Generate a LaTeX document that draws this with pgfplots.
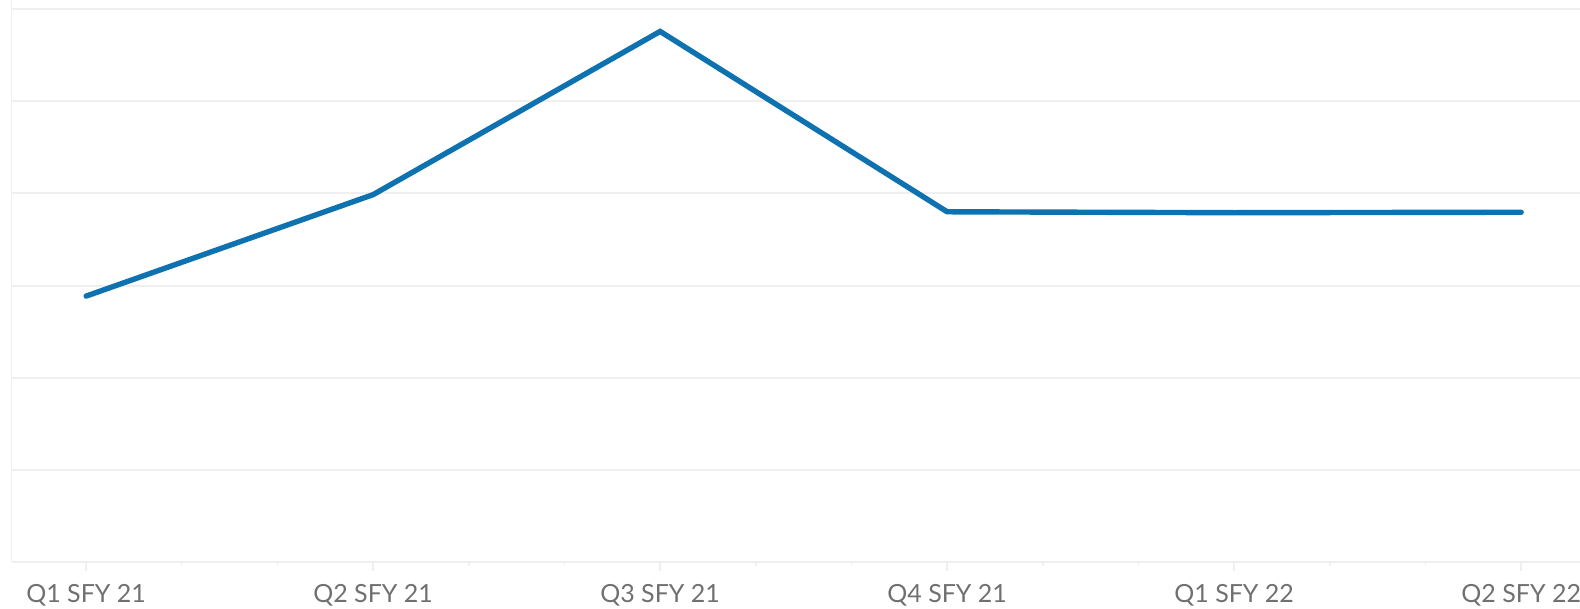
\documentclass[border=0pt]{standalone}
\usepackage{fontspec}
\setmainfont{Lato}
\usepackage{pgfplots}
\pgfplotsset{compat=1.18}
\definecolor{linec}{HTML}{0F72B0}
\definecolor{gridc}{HTML}{EFEFEF}
\definecolor{labc}{HTML}{707070}
\begin{document}
\begin{tikzpicture}
\begin{axis}[
  scale only axis, width=784.25pt, height=281pt,
  xmin=-0.26, xmax=5.205, ymin=0, ymax=6.098,
  axis x line=bottom, axis y line=left,
  axis line style={-, draw=gridc, line width=0.7pt},
  ytick={1,2,3,4,5,6}, yticklabels={},
  ymajorgrids, grid style={gridc, line width=1pt},
  ytick style={draw=none},
  xtick={0,1,2,3,4,5},
  xticklabels={Q1 SFY 21, Q2 SFY 21, Q3 SFY 21, Q4 SFY 21, Q1 SFY 22, Q2 SFY 22},
  minor x tick num=2,
  xtick style={draw=gridc, line width=0.7pt},
  tick align=outside,
  major tick length=4.5pt, minor tick length=2pt,
  xticklabel style={font=\fontsize{12.5}{14}\selectfont, text=labc, anchor=north, yshift=-3pt},
  clip=false,
]
\addplot[linec, line width=2.7pt, line cap=round] coordinates {
  (0,2.885) (1,3.986) (2,5.757) (3,3.80) (4,3.79) (5,3.795)
};
\end{axis}
\pgfresetboundingbox
\path[use as bounding box] ([shift={(-5.75pt,-23.5pt)}]current axis.south west) rectangle (current axis.north east);
\end{tikzpicture}
\end{document}
